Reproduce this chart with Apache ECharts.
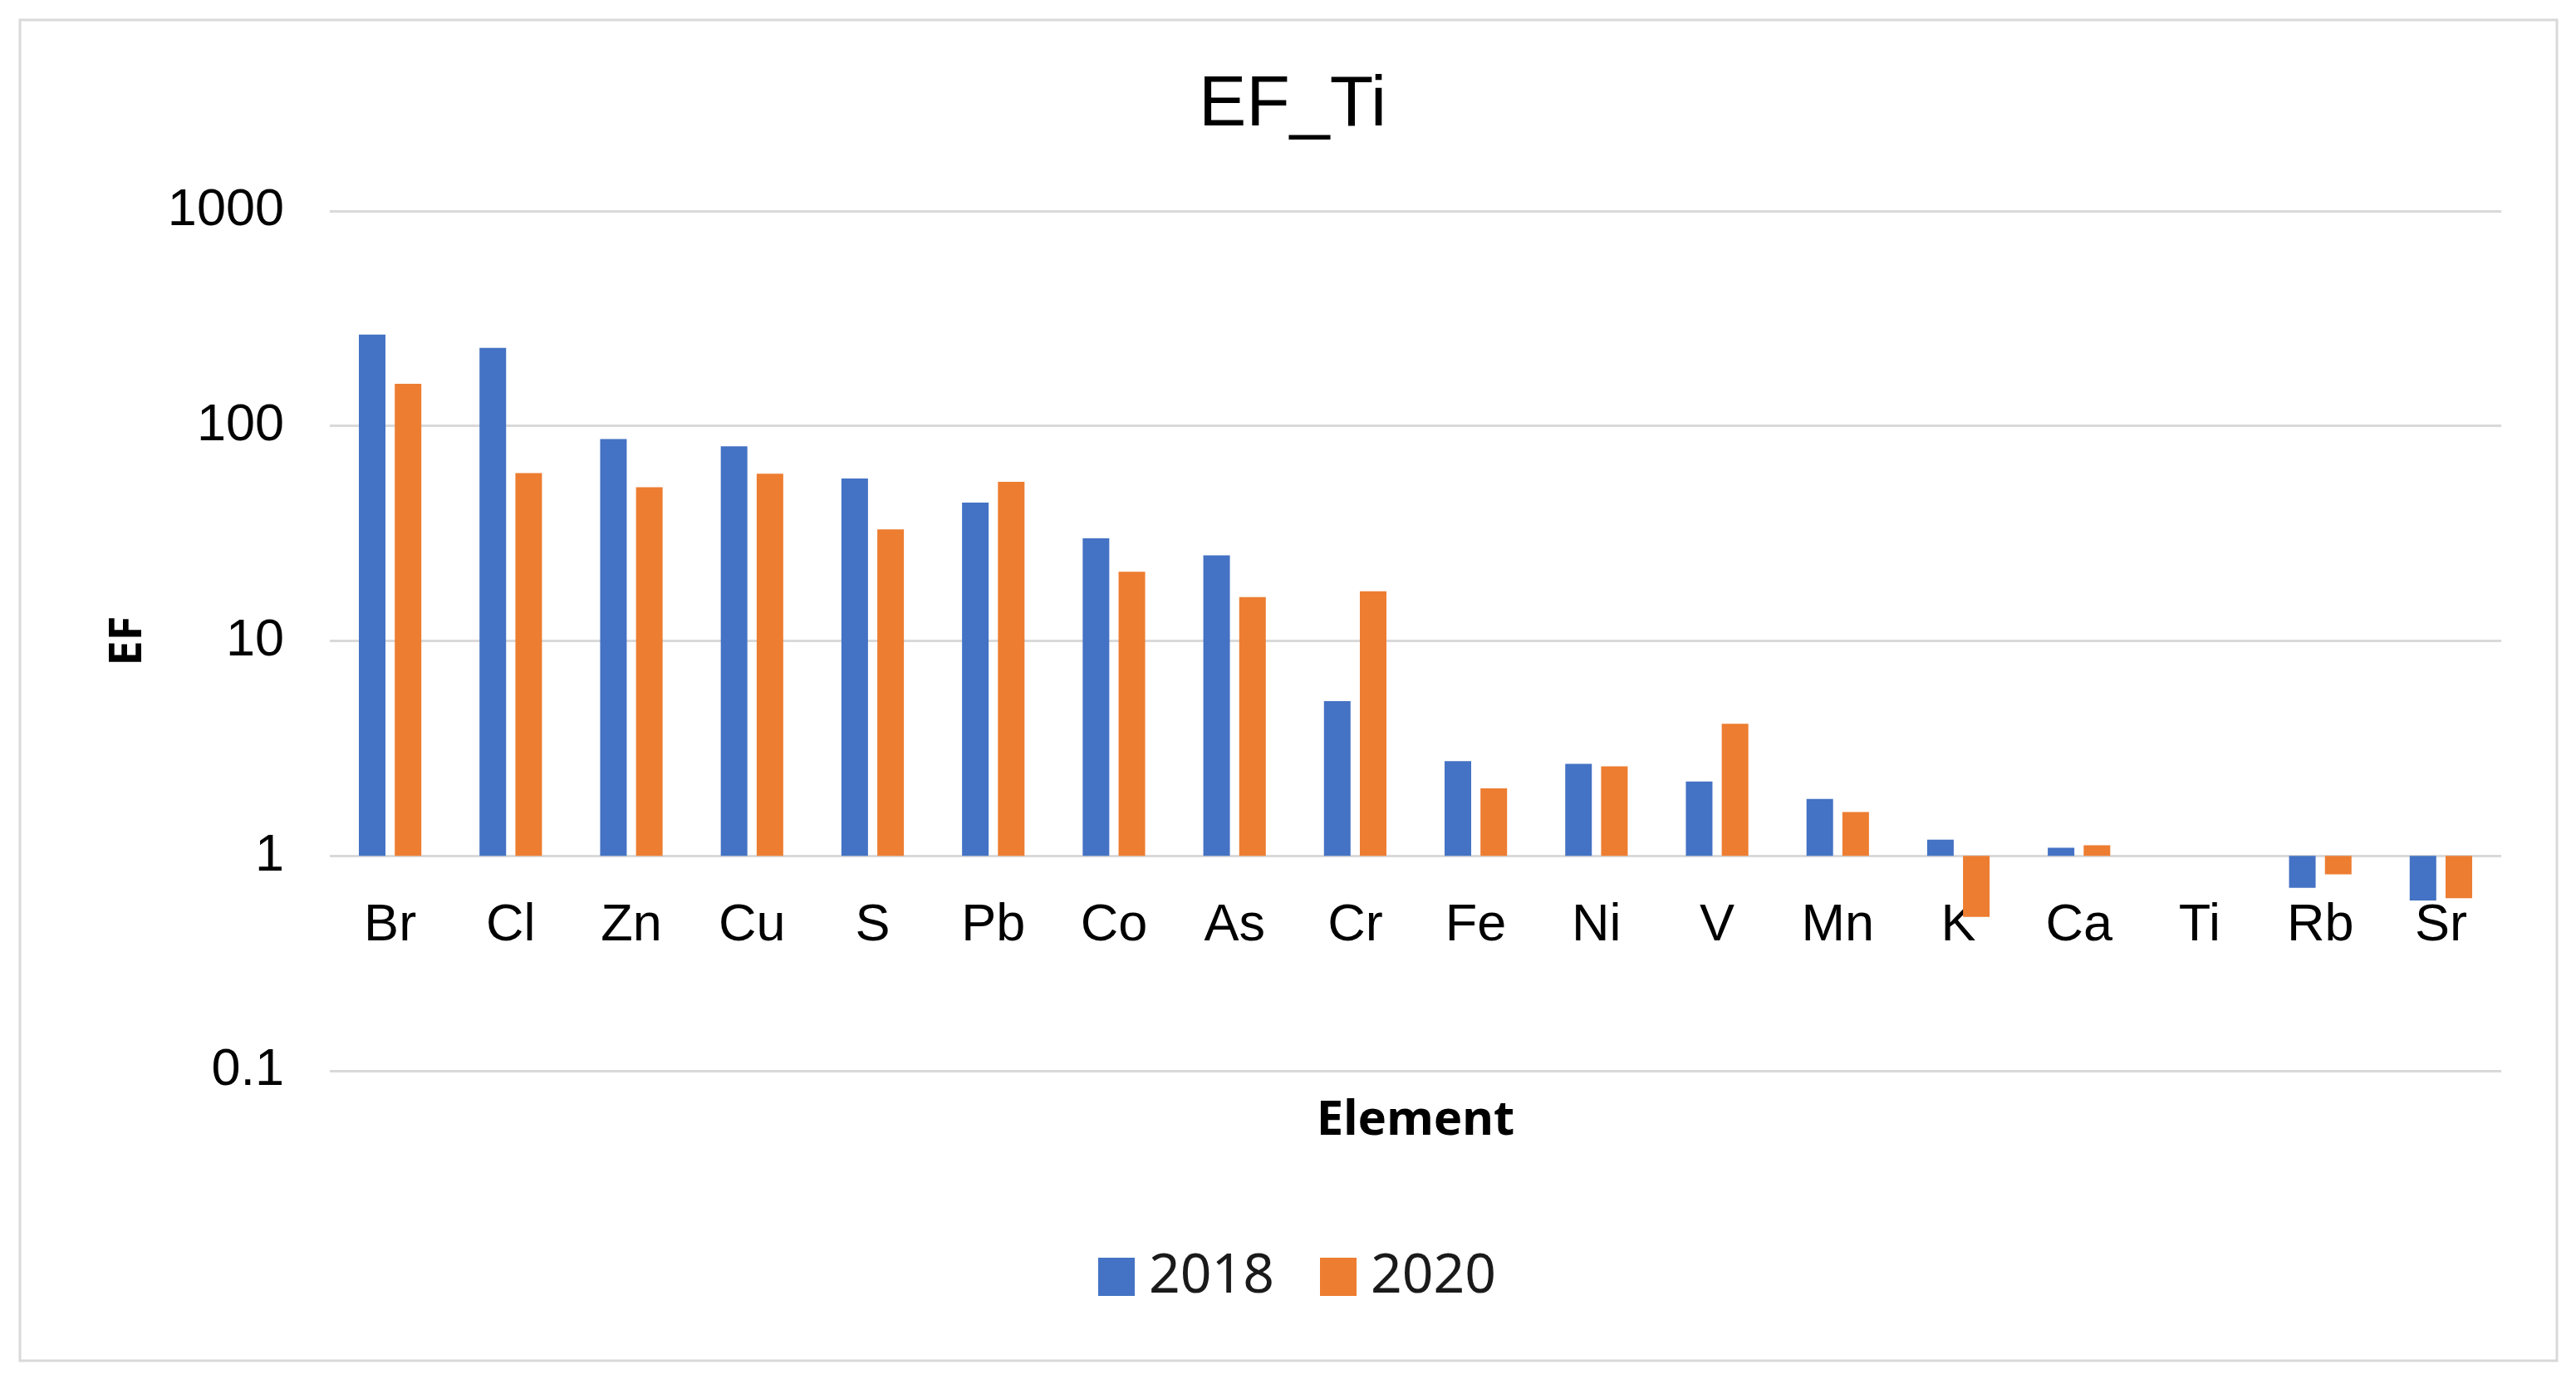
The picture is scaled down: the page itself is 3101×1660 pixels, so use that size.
<!DOCTYPE html>
<html><head><meta charset="utf-8">
<script src="https://cdn.jsdelivr.net/npm/echarts@6/dist/echarts.min.js"></script>
<style>html,body{margin:0;padding:0;background:#fff}#c{width:3101px;height:1660px}</style>
</head><body><div id="c"></div>
<script>
const categories = ['Br','Cl','Zn','Cu','S','Pb','Co','As','Cr','Fe','Ni','V','Mn','K','Ca','Ti','Rb','Sr'];
const values2018 = [266, 231, 87, 80.5, 57, 44, 30, 25, 5.25, 2.76, 2.68, 2.22, 1.84, 1.19, 1.09, 1, 0.71, 0.62];
const values2020 = [157, 60.3, 51.9, 60, 33, 55, 21, 16, 17, 2.06, 2.61, 4.12, 1.60, 0.52, 1.12, 1, 0.82, 0.635];
const yTickLabels = ['0.1', '1', '10', '100', '1000'];
const seriesNames = ['2018', '2020'];

const chart = echarts.init(document.getElementById('c'), null, {renderer: 'canvas'});
const FONT = '"Liberation Sans", Arial, sans-serif';
const option = {
  backgroundColor: '#ffffff',
  animation: false,
  title: {
    text: 'EF_Ti',
    left: 1551, top: 79, textAlign: 'center',
    textStyle: {fontFamily: FONT, fontSize: 86, fontWeight: 'normal', color: '#000', lineHeight: 86}
  },
  graphic: [{
    type: 'rect', silent: true, z: -1,
    shape: {x: 24, y: 24, width: 3054, height: 1614},
    style: {fill: 'none', stroke: '#d9d9d9', lineWidth: 3}
  }],
  legend: {
    data: seriesNames,
    left: 1317, top: 1499,
    itemWidth: 44, itemHeight: 46, itemGap: 55,
    icon: 'rect',
    textStyle: {fontFamily: '"Noto Sans", sans-serif', fontSize: 66, color: '#1a1a1a', padding: [0, 0, 0, 12]}
  },
  grid: {left: 397, right: 90, top: 254, bottom: 371, containLabel: false},
  xAxis: {
    type: 'category',
    data: categories,
    offset: -258,
    axisLine: {show: false},
    axisTick: {show: false},
    axisLabel: {fontFamily: FONT, fontSize: 63, color: '#000', margin: 52, lineHeight: 63, interval: 0},
    name: 'Element',
    nameLocation: 'middle',
    nameGap: 289,
    nameTextStyle: {fontFamily: '"Noto Sans", sans-serif', fontSize: 58, fontWeight: 'bold', color: '#000'}
  },
  yAxis: {
    type: 'log',
    logBase: 10,
    min: 0.1, max: 1000,
    axisLine: {show: false},
    axisTick: {show: false},
    splitLine: {show: true, lineStyle: {color: '#d9d9d9', width: 3}},
    axisLabel: {
      fontFamily: FONT, fontSize: 63, color: '#000', margin: 55,
      formatter: function (v, i) { return yTickLabels[i] !== undefined ? yTickLabels[i] : String(v); }
    },
    name: 'EF',
    nameLocation: 'middle',
    nameGap: 215,
    nameRotate: 90,
    nameTextStyle: {fontFamily: '"Noto Sans", sans-serif', fontSize: 54, fontWeight: 'bold', color: '#000'}
  },
  series: [
    {name: seriesNames[0], type: 'bar', data: values2018, barWidth: 32, barGap: '35%', itemStyle: {color: '#4472C4'}},
    {name: seriesNames[1], type: 'bar', data: values2020, barWidth: 32, barGap: '35%', itemStyle: {color: '#ED7D31'}}
  ]
};
chart.setOption(option);
</script>
</body></html>
